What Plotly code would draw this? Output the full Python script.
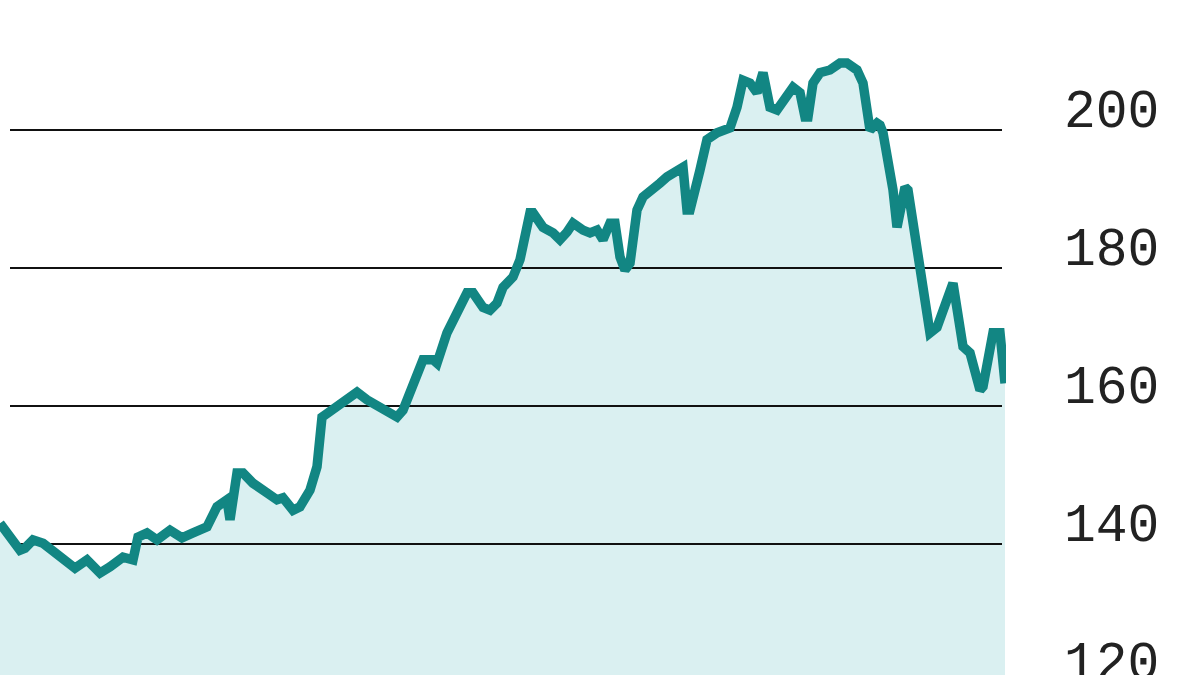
import plotly.graph_objects as go

# x position (trading-day index) and price values
day = [0, 20, 25, 33, 43, 67, 75, 87, 93, 100, 110, 123, 133, 138, 147, 157, 170, 182, 193, 207,
       217, 227, 230, 237, 243, 253, 267, 277, 283, 293, 300, 310, 317, 322, 328, 337, 347, 357,
       367, 380, 397, 403, 413, 423, 433, 437, 447, 457, 467, 473, 483, 490, 497, 503, 513, 520,
       530, 533, 543, 553, 560, 567, 573, 583, 590, 597, 603, 610, 615, 620, 625, 630, 637, 643,
       653, 660, 667, 677, 683, 687, 690, 700, 707, 717, 730, 737, 743, 750, 757, 763, 770, 777,
       783, 793, 800, 805, 808, 813, 820, 830, 840, 847, 857, 863, 870, 877, 880, 883, 893, 897,
       905, 908, 930, 937, 953, 963, 970, 980, 983, 993, 1000, 1005]
price = [143.0, 139.1, 139.4, 140.6, 140.1, 137.4, 136.5, 137.7, 137.0, 135.8, 136.7, 138.1, 137.7,
         141.0, 141.6, 140.6, 142.0, 140.9, 141.6, 142.5, 145.4, 146.4, 143.5, 150.3, 150.3, 148.8,
         147.4, 146.4, 146.7, 144.9, 145.4, 147.8, 151.2, 158.4, 159.0, 159.9, 160.9, 162.0, 160.9,
         159.7, 158.4, 159.4, 163.3, 166.7, 166.7, 166.2, 170.6, 173.5, 176.4, 176.4, 174.3, 173.9,
         174.9, 177.2, 178.7, 181.2, 188.0, 188.0, 185.9, 185.1, 184.1, 185.2, 186.5, 185.5, 185.1,
         185.5, 184.1, 186.5, 186.5, 181.6, 179.7, 180.7, 188.4, 190.3, 191.3, 192.3, 193.2, 194.2,
         194.6, 188.4, 188.4, 194.2, 198.6, 199.6, 200.3, 203.3, 207.2, 206.8, 205.4, 208.3, 203.3,
         202.9, 204.3, 206.2, 205.4, 201.9, 201.9, 206.8, 208.3, 208.7, 209.7, 209.7, 208.7, 206.8,
         200.0, 201.0, 200.7, 199.6, 191.3, 185.9, 191.7, 191.3, 170.6, 171.4, 177.8, 168.6, 167.7,
         162.3, 162.8, 170.6, 170.6, 163.3]

tick_vals = [120, 140, 160, 180, 200]
tick_text = ["120", "140", "160", "180", "200"]
grid_x = [10, 1002]

LINE = "#128683"
FILL = "#daf0f1"

gx, gy = [], []
for v in tick_vals:
    gx += [grid_x[0], grid_x[1], None]
    gy += [v, v, None]

fig = go.Figure()
fig.add_trace(go.Scatter(x=day, y=price, mode="lines", fill="tozeroy", fillcolor=FILL,
                         line=dict(width=0, color=FILL), hoverinfo="skip"))
fig.add_trace(go.Scatter(x=gx, y=gy, mode="lines", line=dict(color="#111111", width=2),
                         hoverinfo="skip"))
fig.add_trace(go.Scatter(x=day, y=price, mode="lines",
                         line=dict(color=LINE, width=9.5)))

H = 720
px_per_unit = 6.9
top = 200 + 130 / px_per_unit
bottom = top - H / px_per_unit

for v, t in zip(tick_vals, tick_text):
    fig.add_annotation(x=1062 / 1006, xref="paper", y=v, yref="y", text=t,
                       showarrow=False, xanchor="left", yanchor="bottom", yshift=-15,
                       font=dict(family="Liberation Mono", size=53, color="#222222"))

fig.update_layout(
    width=1200, height=H,
    margin=dict(l=0, r=194, t=0, b=0),
    paper_bgcolor="white", plot_bgcolor="white",
    showlegend=False,
    xaxis=dict(range=[0, 1006], visible=False),
    yaxis=dict(range=[bottom, top], visible=False),
)

fig.write_html("out.html", config={"displayModeBar": False},
               post_script="document.body.style.margin='0';document.body.style.overflow='hidden';")
